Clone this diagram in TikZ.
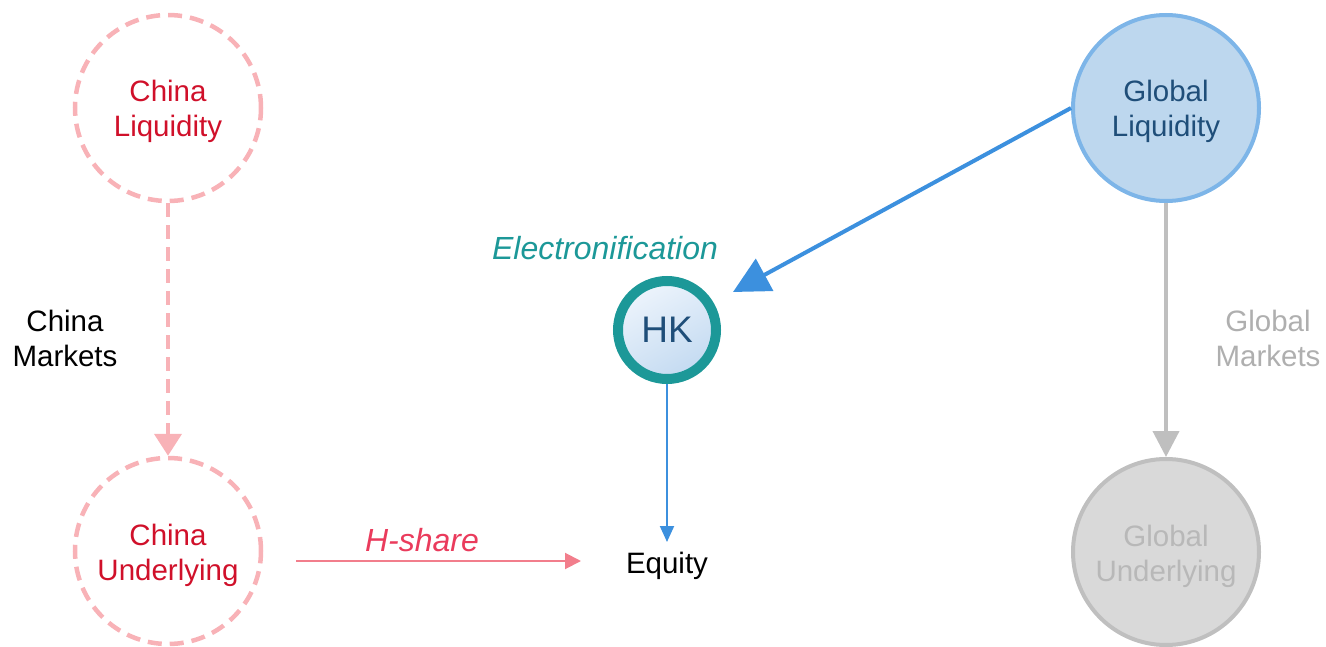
\documentclass[tikz,border=0pt]{standalone}
\usepackage{fontspec}
\setmainfont{Liberation Sans}
\usetikzlibrary{arrows.meta,shadows}
\definecolor{pinkline}{HTML}{F8B2B7}
\definecolor{chinared}{HTML}{D0102A}
\definecolor{hshare}{HTML}{F27E8C}
\definecolor{hsharetext}{HTML}{EA3B5C}
\definecolor{teal}{HTML}{1C9898}
\definecolor{navy}{HTML}{1F4E79}
\definecolor{blueline}{HTML}{3C90DE}
\definecolor{gfill}{HTML}{BDD7EE}
\definecolor{gborder}{HTML}{7DB5E8}
\definecolor{grayline}{HTML}{BFBFBF}
\definecolor{grayfill}{HTML}{D9D9D9}
\definecolor{graytext}{HTML}{A6A6A6}
\definecolor{hklight}{HTML}{EDF4FC}
\definecolor{hkdark}{HTML}{C3DAF1}
\tikzset{
  big/.style={circle,minimum size=186pt,inner sep=0pt},
  chinac/.style={big,draw=pinkline,line width=4.5pt,dash pattern=on 14pt off 8pt},
  lbl/.style={align=center,font=\fontsize{29.5}{35}\selectfont},
  itlbl/.style={align=center,font=\fontsize{32}{36}\selectfont\itshape},
}
\begin{document}
\begin{tikzpicture}[x=1pt,y=-1pt]
\useasboundingbox (0,0) rectangle (1326,647);
\node[chinac] (cl) at (168,108) {};
\node[chinac] (cu) at (168,551) {};
\node[big,draw=gborder,fill=gfill,line width=4pt] (gl) at (1166,108) {};
\node[big,draw=grayline,fill=grayfill,line width=4pt] (gu) at (1166,552) {};
\node[lbl,text=chinared] (clt) at (168,111) {China\\Liquidity};
\node[lbl,text=chinared] (cut) at (168,555) {China\\Underlying};
\node[lbl,text=navy] (glt) at (1166,111) {Global\\Liquidity};
\node[lbl,text=graytext!80] (gut) at (1166,556) {Global\\Underlying};
\node[circle,minimum size=98pt,inner sep=0pt,draw=teal,line width=10pt,
  top color=hklight,bottom color=hkdark,shading angle=30,
  drop shadow={shadow xshift=2pt,shadow yshift=-2pt,opacity=0.25},
  text=navy,font=\fontsize{37}{40}\selectfont] (hk) at (667,330) {HK};
\node[itlbl,text=teal] (el) at (605,248) {Electronification};
\node[lbl] (eq) at (667,566) {Equity};
\node[lbl] (cm) at (65,338) {China\\Markets};
\node[lbl,text=graytext!90] (gm) at (1268,338) {Global\\Markets};
\coordinate (hsA) at (296,561);
\coordinate (hsB) at (581,561);
\coordinate (eqTop) at (667,542);
\node[itlbl,text=hsharetext] (hs) at (422,540) {H-share};
\coordinate (blueEnd) at (733,292);
\draw[pinkline,line width=4.5pt,dash pattern=on 14pt off 8pt,-{Triangle[length=22pt,width=27pt]}] (cl.south) -- (cu.north);
\draw[hshare,line width=2pt,-{Triangle[length=16pt,width=16pt]}] (hsA) -- (hsB);
\draw[blueline,line width=4pt,-{Triangle[length=36pt,width=36pt]}] (gl.west) -- (blueEnd);
\draw[blueline,line width=2pt,-{Triangle[length=16pt,width=14pt]}] (hk.south) -- (eqTop);
\draw[grayline,line width=4pt,-{Triangle[length=26pt,width=26pt]}] (gl.south) -- (gu.north);
\end{tikzpicture}
\end{document}
